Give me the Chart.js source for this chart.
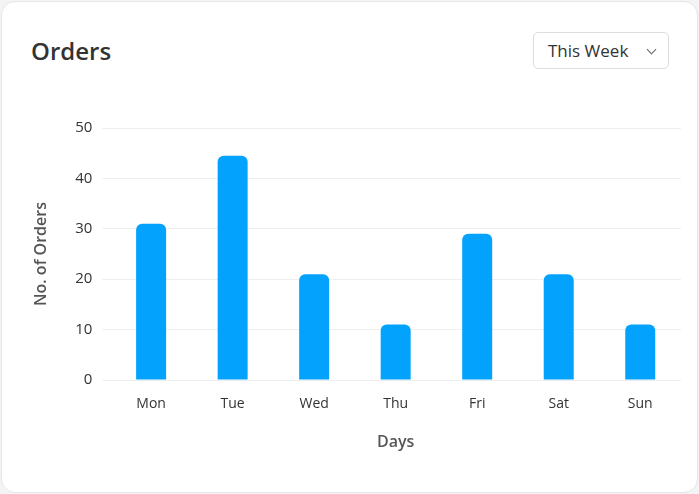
<!DOCTYPE html>
<html>
<head>
<meta charset="utf-8">
<script src="https://cdn.jsdelivr.net/npm/chart.js@4"></script>
<style>
  body { margin: 0; background: #f4f4f4; font-family: "Open Sans", sans-serif; }
  .card { position: absolute; left: 1px; top: 1px; width: 695px; height: 490px; background: #fff;
          border: 1px solid #e6e6e6; border-radius: 14px; }
  h1 { position: absolute; left: 29px; top: 32px; margin: 0; font-size: 24px; font-weight: 600; color: #333; }
  .sel { position: absolute; left: 531px; top: 30px; width: 136px; height: 37px; border: 1px solid #ddd;
         border-radius: 5px; box-sizing: border-box; font-size: 17px; color: #333; padding: 6px 0 0 14px; }
  .sel span { position: absolute; right: 13px; top: 13px; width: 6px; height: 6px; border-right: 1.5px solid #666;
              border-bottom: 1.5px solid #666; transform: rotate(45deg); }
  .wrap { position: absolute; left: 26px; top: 107px; width: 653px; height: 347px; }
</style>
</head>
<body>
<div class="card">
  <h1>Orders</h1>
  <div class="sel">This Week<span></span></div>
  <div class="wrap"><canvas id="mainCanvas"></canvas></div>
</div>
<script>
const days = ["Mon", "Tue", "Wed", "Thu", "Fri", "Sat", "Sun"];
const orders = [31, 44.5, 21, 11, 29, 21, 11];

new Chart(document.getElementById('mainCanvas'), {
    type: 'bar',
    data: {
        labels: days,
        datasets: [{
            label: 'Orders',
            data: orders,
            backgroundColor: '#03a3fd',
            borderRadius: { topLeft: 6, topRight: 6 },
            borderSkipped: false,
            maxBarThickness: 30
        }]
    },
    options: {
        responsive: true,
        maintainAspectRatio: false,
        animation: false,
        plugins: { legend: { display: false }, tooltip: { enabled: false } },
        scales: {
            x: {
                grid: { display: false },
                border: { display: false },
                ticks: { color: '#333', font: { family: 'Open Sans', size: 14 }, padding: 8 },
                title: { display: true, text: 'Days', color: '#555', font: { family: 'Open Sans', size: 16, weight: '600' }, padding: { top: 12 } }
            },
            y: {
                min: 0, max: 50,
                ticks: { stepSize: 10, color: '#333', font: { family: 'Open Sans', size: 15 }, padding: 10 },
                grid: { color: '#efefef' },
                border: { display: false },
                title: { display: true, text: 'No. of Orders', color: '#555', font: { family: 'Open Sans', size: 16, weight: '600' }, padding: { bottom: 14 } }
            }
        }
    }
});
</script>
</body>
</html>
